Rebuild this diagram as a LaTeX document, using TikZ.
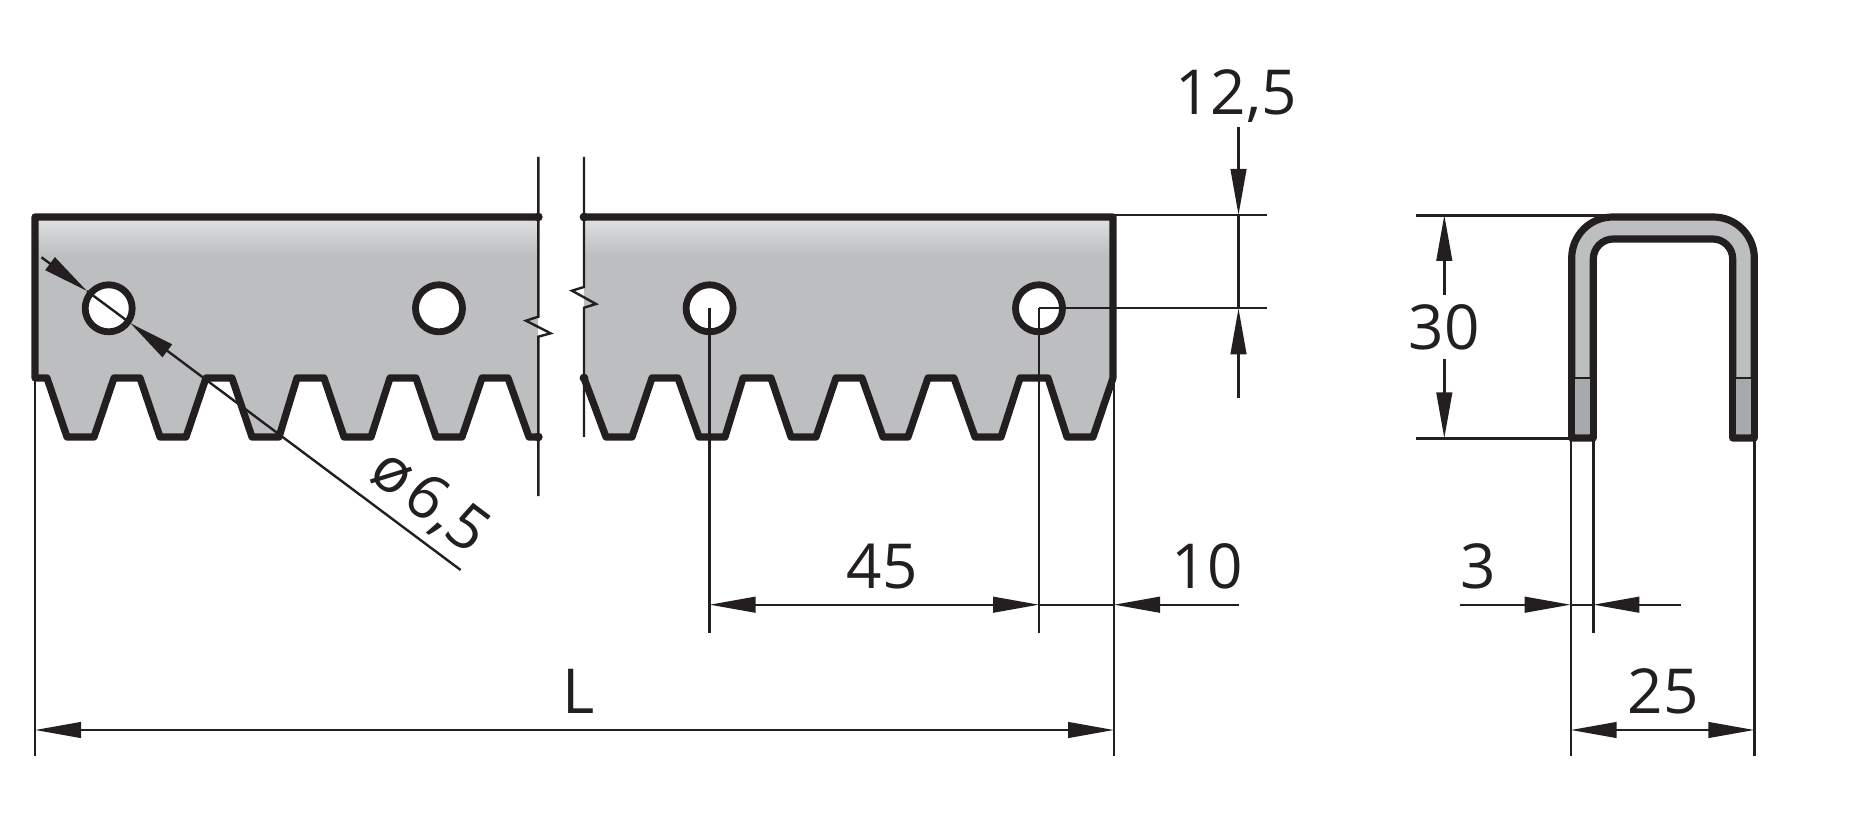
\documentclass[tikz,border=0pt]{standalone}
\usepackage{fontspec}
\setmainfont{Open Sans}
\usetikzlibrary{arrows.meta}
\definecolor{ink}{HTML}{231F20}
\definecolor{steel}{HTML}{BCBEC0}
\definecolor{steelhi}{HTML}{E0E1E3}
\definecolor{steeldk}{HTML}{A7A9AC}
\tikzset{
  x=0.5pt,y=-0.5pt,
  outline/.style={draw=ink,line width=3.6pt,line join=round,line cap=round},
  thin dim/.style={draw=ink,line width=1.2pt},
  hole/.style={circle,draw=ink,fill=white,line width=3.4pt,minimum size=23.5pt,inner sep=0pt},
  enddot/.style={circle,fill=ink,minimum size=4.4pt,inner sep=0pt},
  dimtext/.style={text=ink,font=\fontsize{31}{31}\selectfont,anchor=base,inner sep=0pt},
  tip/.style={-{Triangle[length=23pt,width=7.8pt]}},
  tips/.style={{Triangle[length=23pt,width=7.8pt]}-{Triangle[length=23pt,width=7.8pt]}},
}
\begin{document}
\begin{tikzpicture}
\useasboundingbox (0,0) rectangle (1852,828);
% left piece
\fill[steel] (35,217) -- (538,217) -- (538,437) -- (529,437) -- (508,378) -- (482,378) -- (462,437) -- (436,437) -- (416,378) -- (390,378) -- (371,437) -- (344,437) -- (324,378) -- (297,378) -- (279,437) -- (252,437) -- (232,378) -- (206,378) -- (186,437) -- (160,437) -- (140,378) -- (114,378) -- (94,437) -- (67,437) -- (47,378) -- (35,378) -- cycle;
\shade[top color=steelhi,bottom color=steel] (35,217) rectangle (538,256);
% right piece
\fill[steel] (584,217) -- (1114,217) -- (1114,378) -- (1093,437) -- (1067,437) -- (1048,378) -- (1020,378) -- (1001,437) -- (975,437) -- (954,378) -- (928,378) -- (908,437) -- (883,437) -- (862,378) -- (836,378) -- (816,437) -- (791,437) -- (771,378) -- (743,378) -- (725,437) -- (699,437) -- (678,378) -- (652,378) -- (632,437) -- (606,437) -- (584,378) -- cycle;
\shade[top color=steelhi,bottom color=steel] (584,217) rectangle (1114,256);
% outlines
\draw[outline] (538,217) -- (35,217) -- (35,378) -- (47,378) -- (67,437) -- (94,437) -- (114,378) -- (140,378) -- (160,437) -- (186,437) -- (206,378) -- (232,378) -- (252,437) -- (279,437) -- (297,378) -- (324,378) -- (344,437) -- (371,437) -- (390,378) -- (416,378) -- (436,437) -- (462,437) -- (482,378) -- (508,378) -- (529,437) -- (538,437);
\draw[outline] (584,217) -- (1113,217) -- (1113,378) -- (1093,437) -- (1067,437) -- (1048,378) -- (1020,378) -- (1001,437) -- (975,437) -- (954,378) -- (928,378) -- (908,437) -- (883,437) -- (862,378) -- (836,378) -- (816,437) -- (791,437) -- (771,378) -- (743,378) -- (725,437) -- (699,437) -- (678,378) -- (652,378) -- (632,437) -- (606,437) -- (584,378);
% holes
\node[hole] (h1) at (108.7,308.3) {};
\node[hole] (h2) at (439,308.3) {};
\node[hole] (h3) at (709.6,308.3) {};
\node[hole] (h4) at (1039,308.3) {};
\coordinate (h3c) at (709.6,308.3);
\coordinate (h4c) at (1039,308.3);
% break lines
\draw[thin dim,line join=miter] (538.3,157) -- (538.3,316.7) -- (526,320.7) -- (550.6,333.3) -- (538.3,336.7) -- (538.3,496);
\draw[thin dim,line join=miter] (584,157) -- (584,287) -- (572,290.7) -- (596,304) -- (584,307.7) -- (584,437);
\node[enddot] (d1) at (538.3,217) {};
\node[enddot] (d2) at (538.3,437) {};
\node[enddot] (d3) at (584,217) {};
\node[enddot] (d4) at (584,378) {};
% end view
\draw[outline,fill=steel] (1571.7,438) -- (1571.7,258) arc[start angle=180,end angle=270,radius=41] -- (1713.3,217) arc[start angle=270,end angle=360,radius=41] -- (1754.3,438) -- (1732.7,438) -- (1732.7,259) arc[start angle=360,end angle=270,radius=20] -- (1613.3,239) arc[start angle=270,end angle=180,radius=20] -- (1593.3,438) -- cycle;
\fill[steeldk] (1575,378.3) rectangle (1590,434.5);
\fill[steeldk] (1736,378.3) rectangle (1751,434.5);
\draw[thin dim] (1571.7,378.3) -- (1593.3,378.3);
\draw[thin dim] (1732.7,378.3) -- (1754.3,378.3);
% named points of the dimensioning
\coordinate (Lx1) at (35,378);
\coordinate (Lx1e) at (35,756);
\coordinate (Lx2) at (1114,378);
\coordinate (Lx2e) at (1114,756);
\coordinate (La) at (35,730);
\coordinate (Lb) at (1114,730);
\coordinate (e3) at (709.6,633);
\coordinate (e4) at (1039,633);
\coordinate (m3) at (709.6,604.7);
\coordinate (m4) at (1039,604.7);
\coordinate (m5) at (1114,604.7);
\coordinate (m6) at (1239,604.7);
\coordinate (t0) at (1238.5,127.5);
\coordinate (t1) at (1238.5,215);
\coordinate (t2) at (1238.5,308.3);
\coordinate (t3) at (1238.5,398);
\coordinate (r1a) at (1114,215);
\coordinate (r1b) at (1267,215);
\coordinate (r2b) at (1267,308.3);
\coordinate (v1) at (1416,215.5);
\coordinate (v1e) at (1620,215.5);
\coordinate (v2) at (1416,438.3);
\coordinate (v2e) at (1572,438.3);
\coordinate (a1) at (1444.3,295);
\coordinate (a1t) at (1444.3,215);
\coordinate (a2) at (1444.3,359);
\coordinate (a2t) at (1444.3,438.3);
\coordinate (x1) at (1570.7,438);
\coordinate (x1e) at (1570.7,756);
\coordinate (x2) at (1593.3,438);
\coordinate (x2e) at (1593.3,633);
\coordinate (x3) at (1754.3,438);
\coordinate (x3e) at (1754.3,756);
\coordinate (s0) at (1460,604.7);
\coordinate (s1) at (1570.7,604.7);
\coordinate (s2) at (1593.3,604.7);
\coordinate (s3) at (1680.6,604.7);
\coordinate (w1) at (1570.7,730);
\coordinate (w2) at (1754.3,730);
\coordinate (p0) at (41.5,257.3);
\coordinate (p1) at (87,291);
\coordinate (p2) at (130.5,323.3);
\coordinate (p3) at (460.6,570);
% extension lines
\draw[thin dim] (Lx1) -- (Lx1e);
\draw[thin dim] (Lx2) -- (Lx2e);
\draw[thin dim] (h3c) -- (e3);
\draw[thin dim] (h4c) -- (e4);
\draw[thin dim] (r1a) -- (r1b);
\draw[thin dim] (h4c) -- (r2b);
\draw[thin dim] (v1) -- (v1e);
\draw[thin dim,line width=1.4pt] (v2) -- (v2e);
\draw[thin dim] (x1) -- (x1e);
\draw[thin dim] (x2) -- (x2e);
\draw[thin dim] (x3) -- (x3e);
% dimension lines
\draw[thin dim,tips,fill=ink] (La) -- (Lb);
\draw[thin dim,tips,fill=ink] (m3) -- (m4);
\draw[thin dim] (m4) -- (m5);
\draw[thin dim,tip,fill=ink] (m6) -- (m5);
\draw[thin dim,tip,fill=ink] (t0) -- (t1);
\draw[thin dim] (t1) -- (t2);
\draw[thin dim,tip,fill=ink] (t3) -- (t2);
\draw[thin dim,tip,fill=ink] (a1) -- (a1t);
\draw[thin dim,tip,fill=ink] (a2) -- (a2t);
\draw[thin dim,tip,fill=ink] (s0) -- (s1);
\draw[thin dim] (s1) -- (s2);
\draw[thin dim,tip,fill=ink] (s3) -- (s2);
\draw[thin dim,tips,fill=ink] (w1) -- (w2);
\draw[thin dim,tip,fill=ink] (p0) -- (p1);
\draw[thin dim] (p1) -- (p2);
\draw[thin dim,tip,fill=ink] (p3) -- (p2);
% labels
\node[dimtext] (t125) at (1236,115) {12,5};
\node[dimtext] (t30) at (1444,350) {30};
\node[dimtext] (t45) at (882,588) {45};
\node[dimtext] (t10) at (1207,588) {10};
\node[dimtext] (t3) at (1478,588) {3};
\node[dimtext] (tL) at (579,713) {L};
\node[dimtext] (t25) at (1663,713) {25};
\node[dimtext,rotate=-37] (tphi) at (418,516.6) {ø\kern3pt 6,5};
\end{tikzpicture}
\end{document}
